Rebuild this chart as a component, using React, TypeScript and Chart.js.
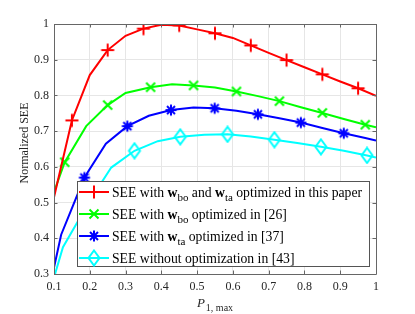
import React, { useEffect, useRef } from 'react';
import { Chart, registerables } from 'chart.js';

Chart.register(...registerables);

// ---------- data ----------
const xTicks = [0.1, 0.2, 0.3, 0.4, 0.5, 0.6, 0.7, 0.8, 0.9, 1.0];
const xTickLabels = ['0.1', '0.2', '0.3', '0.4', '0.5', '0.6', '0.7', '0.8', '0.9', '1'];
const yTicks = [0.3, 0.4, 0.5, 0.6, 0.7, 0.8, 0.9, 1.0];
const yTickLabels = ['0.3', '0.4', '0.5', '0.6', '0.7', '0.8', '0.9', '1'];

const redX = [0.1, 0.15, 0.2, 0.25, 0.3, 0.35, 0.4, 0.45, 0.5, 0.55, 0.6, 0.65, 0.7, 0.75, 0.8, 0.85, 0.9, 0.95, 1.0];
const redY = [0.515, 0.73, 0.857, 0.927, 0.967, 0.987, 0.998, 0.996, 0.985, 0.974, 0.961, 0.94, 0.919, 0.899, 0.879, 0.859, 0.839, 0.82, 0.799];
const redMarks = [0.15, 0.25, 0.35, 0.45, 0.55, 0.65, 0.75, 0.85, 0.95];

const greenX = [0.1, 0.13, 0.19, 0.25, 0.3, 0.37, 0.43, 0.49, 0.55, 0.61, 0.67, 0.73, 0.79, 0.85, 0.91, 0.97, 1.0];
const greenY = [0.53, 0.613, 0.714, 0.773, 0.807, 0.823, 0.831, 0.828, 0.822, 0.811, 0.798, 0.784, 0.767, 0.751, 0.734, 0.718, 0.711];
const greenMarks = [0.13, 0.25, 0.37, 0.49, 0.61, 0.73, 0.85, 0.97];

const blueX = [0.1, 0.12, 0.185, 0.245, 0.305, 0.365, 0.427, 0.49, 0.549, 0.61, 0.67, 0.73, 0.79, 0.85, 0.91, 0.97, 1.0];
const blueY = [0.318, 0.41, 0.57, 0.665, 0.714, 0.743, 0.759, 0.766, 0.764, 0.757, 0.747, 0.736, 0.724, 0.709, 0.694, 0.681, 0.674];
const blueMarks = [0.185, 0.305, 0.427, 0.549, 0.67, 0.79, 0.91];

const cyanX = [0.1, 0.125, 0.2, 0.26, 0.325, 0.39, 0.453, 0.52, 0.585, 0.65, 0.716, 0.78, 0.846, 0.91, 0.975, 1.0];
const cyanY = [0.29, 0.375, 0.505, 0.598, 0.645, 0.672, 0.684, 0.69, 0.691, 0.685, 0.676, 0.667, 0.656, 0.645, 0.632, 0.626];
const cyanMarks = [0.325, 0.453, 0.585, 0.716, 0.846, 0.975];

const FONT = '"Liberation Serif", "Times New Roman", serif';

type Seg = { t: string; bold?: boolean; sub?: boolean };
const legendRows: { color: string; marker: string; segs: Seg[] }[] = [
  { color: '#ff0000', marker: 'plus', segs: [{ t: 'SEE with ' }, { t: 'w', bold: true }, { t: 'bo', sub: true }, { t: ' and ' }, { t: 'w', bold: true }, { t: 'ta', sub: true }, { t: ' optimized in this paper' }] },
  { color: '#00ff00', marker: 'x', segs: [{ t: 'SEE with ' }, { t: 'w', bold: true }, { t: 'bo', sub: true }, { t: ' optimized in [26]' }] },
  { color: '#0000ff', marker: 'star', segs: [{ t: 'SEE with ' }, { t: 'w', bold: true }, { t: 'ta', sub: true }, { t: ' optimized in [37]' }] },
  { color: '#00ffff', marker: 'diamond', segs: [{ t: 'SEE without optimization in [43]' }] },
];

function makeMarker(kind: string, color: string): HTMLCanvasElement {
  const c = document.createElement('canvas');
  c.width = 18;
  c.height = 18;
  const g = c.getContext('2d')!;
  g.strokeStyle = color;
  g.lineWidth = 2;
  g.lineCap = 'butt';
  const m = 9;
  g.beginPath();
  if (kind === 'plus') {
    g.moveTo(m - 6.5, m); g.lineTo(m + 6.5, m);
    g.moveTo(m, m - 6.5); g.lineTo(m, m + 6.5);
  } else if (kind === 'x') {
    g.moveTo(m - 4.5, m - 4.5); g.lineTo(m + 4.5, m + 4.5);
    g.moveTo(m - 4.5, m + 4.5); g.lineTo(m + 4.5, m - 4.5);
  } else if (kind === 'star') {
    g.moveTo(m - 5.5, m); g.lineTo(m + 5.5, m);
    g.moveTo(m, m - 5.5); g.lineTo(m, m + 5.5);
    g.moveTo(m - 4, m - 4); g.lineTo(m + 4, m + 4);
    g.moveTo(m - 4, m + 4); g.lineTo(m + 4, m - 4);
  } else {
    g.moveTo(m, m - 7.5); g.lineTo(m + 5.5, m); g.lineTo(m, m + 7.5); g.lineTo(m - 5.5, m); g.closePath();
  }
  g.stroke();
  return c;
}

function series(xs: number[], ys: number[], marks: number[], color: string, img: HTMLCanvasElement, label: string) {
  return {
    label,
    data: xs.map((x, i) => ({ x, y: ys[i] })),
    borderColor: color,
    backgroundColor: color,
    borderWidth: 2,
    pointStyle: img,
    pointRadius: (ctx: any) => (marks.some((m) => Math.abs(m - xs[ctx.dataIndex]) < 1e-6) ? 5 : 0),
    tension: 0,
    fill: false,
  };
}

const framePlugin = {
  id: 'frame',
  afterDatasetsDraw(chart: any) {
    const { ctx, chartArea: a, scales } = chart;
    ctx.save();
    ctx.strokeStyle = '#666666';
    ctx.lineWidth = 1;
    ctx.beginPath();
    ctx.rect(Math.round(a.left) + 0.5, Math.round(a.top) + 0.5, Math.round(a.right - a.left), Math.round(a.bottom - a.top));
    const tl = 3.5;
    xTicks.forEach((v) => {
      const px = Math.round(scales.x.getPixelForValue(v)) + 0.5;
      ctx.moveTo(px, a.bottom); ctx.lineTo(px, a.bottom - tl);
      ctx.moveTo(px, a.top); ctx.lineTo(px, a.top + tl);
    });
    yTicks.forEach((v) => {
      const py = Math.round(scales.y.getPixelForValue(v)) + 0.5;
      ctx.moveTo(a.left, py); ctx.lineTo(a.left + tl, py);
      ctx.moveTo(a.right, py); ctx.lineTo(a.right - tl, py);
    });
    ctx.stroke();

    // axis titles
    ctx.fillStyle = '#262626';
    ctx.font = `12px ${FONT}`;
    ctx.textAlign = 'center';
    ctx.textBaseline = 'middle';
    ctx.save();
    ctx.translate(25, 143);
    ctx.rotate(-Math.PI / 2);
    ctx.fillText('Normalized SEE', 0, 0);
    ctx.restore();

    // x title: P_{1, max}
    ctx.textAlign = 'left';
    ctx.textBaseline = 'alphabetic';
    ctx.font = `italic 13px ${FONT}`;
    const pW = ctx.measureText('P').width;
    ctx.font = `10px ${FONT}`;
    const sW = ctx.measureText('1, max').width;
    const start = (a.left + a.right) / 2 - (pW + 1 + sW) / 2;
    ctx.font = `italic 13px ${FONT}`;
    ctx.fillText('P', start, 307);
    ctx.font = `10px ${FONT}`;
    ctx.fillText('1, max', start + pW + 1, 311);
    ctx.restore();
  },
  afterDraw(chart: any) {
    const ctx = chart.ctx;
    const bx = 77, by = 181, bw = 292, bh = 85;
    ctx.save();
    ctx.fillStyle = '#ffffff';
    ctx.fillRect(bx, by, bw, bh);
    ctx.strokeStyle = '#555555';
    ctx.lineWidth = 1;
    ctx.strokeRect(bx + 0.5, by + 0.5, bw, bh);
    const rowsY = [192, 214, 236, 258];
    legendRows.forEach((r, i) => {
      const y = rowsY[i];
      ctx.strokeStyle = r.color;
      ctx.lineWidth = 2;
      ctx.beginPath();
      ctx.moveTo(79, y);
      ctx.lineTo(109, y);
      ctx.stroke();
      const img = chart.data.datasets[i].pointStyle as HTMLCanvasElement;
      ctx.drawImage(img, 94 - img.width / 2, y - img.height / 2);
      let x = 112;
      ctx.fillStyle = '#000000';
      ctx.textBaseline = 'alphabetic';
      r.segs.forEach((s) => {
        if (s.sub) {
          ctx.font = `11px ${FONT}`;
          ctx.fillText(s.t, x, y + 8.5);
        } else {
          ctx.font = `${s.bold ? 'bold ' : ''}13.7px ${FONT}`;
          ctx.fillText(s.t, x, y + 4.5);
        }
        x += ctx.measureText(s.t).width;
      });
    });
    ctx.restore();
  },
};

export default function App() {
  const ref = useRef<HTMLCanvasElement>(null);
  useEffect(() => {
    const imgs = legendRows.map((r) => makeMarker(r.marker, r.color));
    const chart = new Chart(ref.current!, {
      type: 'line',
      data: {
        datasets: [
          series(redX, redY, redMarks, '#ff0000', imgs[0], 'red'),
          series(greenX, greenY, greenMarks, '#00ff00', imgs[1], 'green'),
          series(blueX, blueY, blueMarks, '#0000ff', imgs[2], 'blue'),
          series(cyanX, cyanY, cyanMarks, '#00ffff', imgs[3], 'cyan'),
        ] as any,
      },
      options: {
        responsive: false,
        animation: false,
        events: [],
        layout: { padding: { top: 24, right: 39, left: 0, bottom: 0 } },
        plugins: { legend: { display: false }, tooltip: { enabled: false } },
        scales: {
          x: {
            type: 'linear',
            min: 0.1,
            max: 1,
            afterBuildTicks: (s: any) => { s.ticks = xTicks.map((v) => ({ value: v })); },
            afterFit: (s: any) => { s.height = 40; },
            ticks: {
              callback: (_v: any, i: number) => xTickLabels[i],
              font: { family: FONT, size: 12 },
              color: '#262626',
              padding: 6,
              maxRotation: 0,
              autoSkip: false,
            },
            grid: { color: '#e6e6e6', drawTicks: false, lineWidth: 1 },
            border: { display: false },
          },
          y: {
            type: 'linear',
            min: 0.3,
            max: 1,
            afterBuildTicks: (s: any) => { s.ticks = yTicks.map((v) => ({ value: v })); },
            afterFit: (s: any) => { s.width = 54; },
            ticks: {
              callback: (_v: any, i: number) => yTickLabels[i],
              font: { family: FONT, size: 12 },
              color: '#262626',
              padding: 5,
              autoSkip: false,
            },
            grid: { color: '#e6e6e6', drawTicks: false, lineWidth: 1 },
            border: { display: false },
          },
        },
      },
      plugins: [framePlugin],
    });
    return () => chart.destroy();
  }, []);
  return (
    <div style={{ position: 'fixed', left: 0, top: 0, width: 415, height: 314, background: '#fff' }}>
      <canvas ref={ref} width={415} height={314} style={{ display: 'block' }} />
    </div>
  );
}
